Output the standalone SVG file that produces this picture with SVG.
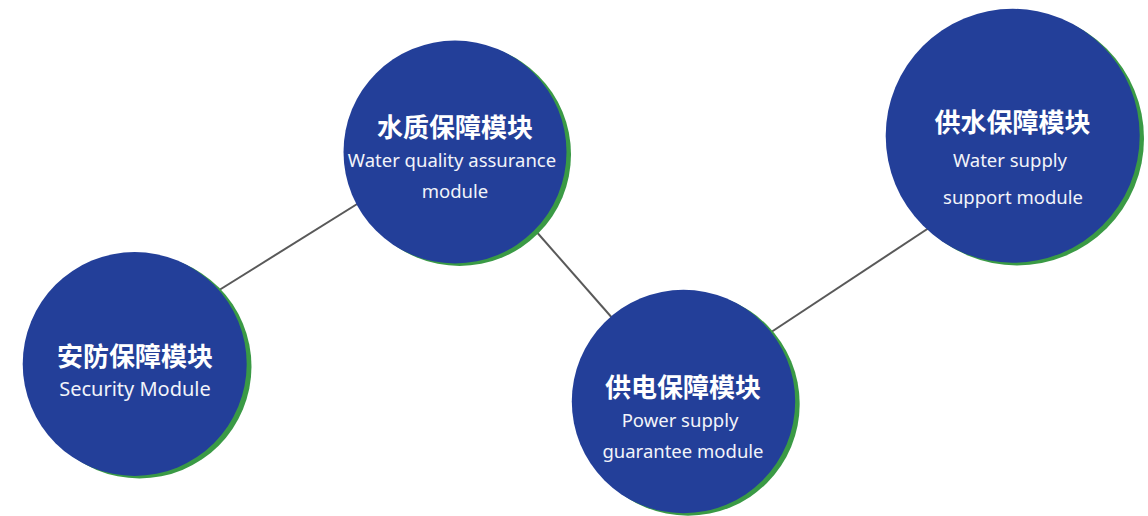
<svg xmlns="http://www.w3.org/2000/svg" width="1148" height="516" viewBox="0 0 1148 516">
<style>
.shadow{fill:#3a9a45}
.disc{fill:#233f99}
.cn{font-family:"Noto Sans CJK SC","Noto Sans",sans-serif;font-weight:700;font-size:26px;fill:#ffffff;text-anchor:middle}
.en{font-family:"Noto Sans","Open Sans",sans-serif;font-size:18.5px;fill:#f2f4fa;text-anchor:middle}
.link{stroke:#595959;stroke-width:2;fill:none}
</style>
<rect width="1148" height="516" fill="#ffffff"/>
<g id="connectors">
<line class="link" x1="200" y1="302" x2="378" y2="191"/>
<line class="link" x1="520" y1="213" x2="628" y2="336"/>
<line class="link" x1="750" y1="346" x2="950" y2="214"/>
</g>
<g id="node-security">
<circle class="shadow" cx="139.5" cy="366.5" r="112"/>
<circle class="disc" cx="134.7" cy="364" r="112"/>
<text class="cn" x="135" y="366">安防保障模块</text>
<text class="en" x="135" y="396" style="font-size:20px">Security Module</text>
</g>
<g id="node-water-quality">
<circle class="shadow" cx="459.5" cy="154.5" r="111.5"/>
<circle class="disc" cx="455" cy="152" r="111.5"/>
<text class="cn" x="455" y="137">水质保障模块</text>
<text class="en" x="452" y="167">Water quality assurance</text>
<text class="en" x="455" y="198">module</text>
</g>
<g id="node-power">
<circle class="shadow" cx="688" cy="404" r="111.7"/>
<circle class="disc" cx="683.5" cy="401.5" r="111.7"/>
<text class="cn" x="683" y="397">供电保障模块</text>
<text class="en" x="680" y="427">Power supply</text>
<text class="en" x="683" y="458">guarantee module</text>
</g>
<g id="node-water-supply">
<circle class="shadow" cx="1017" cy="138.5" r="127"/>
<circle class="disc" cx="1012.7" cy="135.8" r="127"/>
<text class="cn" x="1012.5" y="132">供水保障模块</text>
<text class="en" x="1010" y="167">Water supply</text>
<text class="en" x="1013" y="204">support module</text>
</g>
</svg>
